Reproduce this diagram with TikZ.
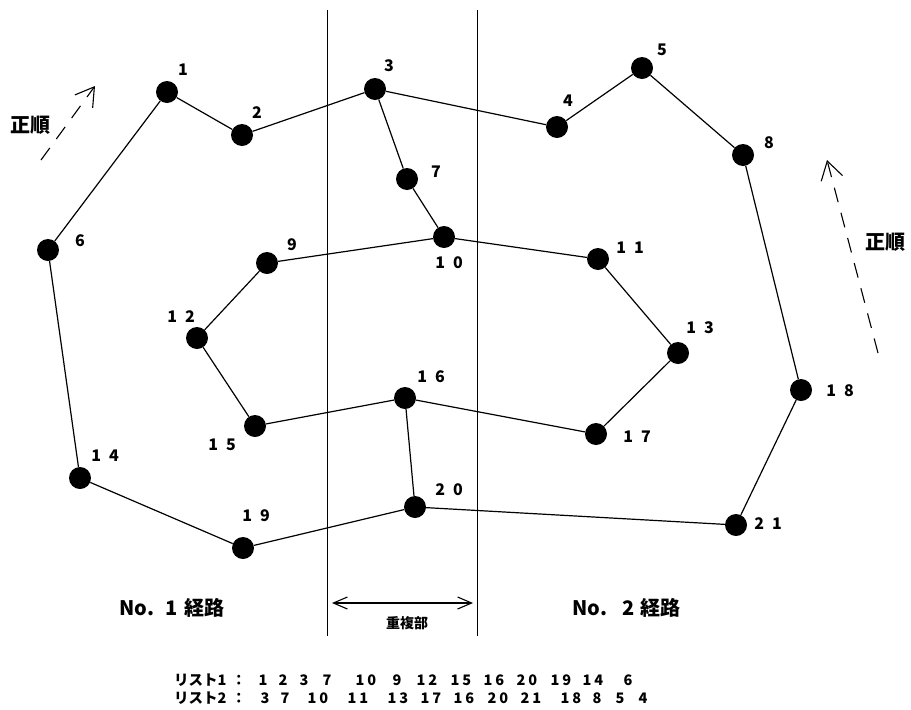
\documentclass[tikz,border=0pt]{standalone}
\usepackage{fontspec}
\setmainfont{Noto Sans CJK JP}
\usetikzlibrary{arrows.meta}
\begin{document}
\begin{tikzpicture}[x=1pt,y=-1pt,
  dot/.style={circle,fill=black,inner sep=0pt,minimum size=22pt},
  edge/.style={line width=1.2pt},
  lbl/.style={font=\bfseries\fontsize{16}{16}\selectfont,inner sep=0pt},
  big/.style={font=\bfseries\fontsize{20}{20}\selectfont,inner sep=0pt},
  mid/.style={font=\bfseries\fontsize{14}{14}\selectfont,inner sep=0pt},
  lst/.style={font=\bfseries\fontsize{14.5}{14.5}\selectfont,inner sep=0pt},
  vline/.style={line width=1pt},
  dasharrow/.style={line width=1.1pt,dash pattern=on 15pt off 11pt,-{Straight Barb[length=18pt,width=22pt,line width=1.1pt]}},
  dblarrow/.style={line width=1.1pt,{Straight Barb[length=14pt,width=12pt]}-{Straight Barb[length=14pt,width=12pt]}}
]
\useasboundingbox (0,0) rectangle (911,710);
\newcommand{\dg}{\hspace{8pt}}
% nodes
\node[dot] (n1) at (167,92) {};
\node[dot] (n2) at (242,135) {};
\node[dot] (n3) at (375,89) {};
\node[dot] (n4) at (557,127) {};
\node[dot] (n5) at (642,68) {};
\node[dot] (n6) at (48,250) {};
\node[dot] (n7) at (407,179) {};
\node[dot] (n8) at (743,155) {};
\node[dot] (n9) at (267,263) {};
\node[dot] (n10) at (444,237) {};
\node[dot] (n11) at (598,259) {};
\node[dot] (n12) at (197,338) {};
\node[dot] (n13) at (678,353) {};
\node[dot] (n14) at (80,478) {};
\node[dot] (n15) at (255,426) {};
\node[dot] (n16) at (405,398) {};
\node[dot] (n17) at (596,434) {};
\node[dot] (n18) at (801,390) {};
\node[dot] (n19) at (243,548) {};
\node[dot] (n20) at (415,507) {};
\node[dot] (n21) at (736,525) {};
% labels
\node[lbl] (l1) at (183,70) {1};
\node[lbl] (l2) at (257,113) {2};
\node[lbl] (l3) at (389,66) {3};
\node[lbl] (l4) at (568,101) {4};
\node[lbl] (l5) at (662,50) {5};
\node[lbl] (l6) at (80,241) {6};
\node[lbl] (l7) at (436,172) {7};
\node[lbl] (l8) at (769,143) {8};
\node[lbl] (l9) at (292,245) {9};
\node[lbl] (l10) at (449,263) {1\dg 0};
\node[lbl] (l11) at (630,248) {1\dg 1};
\node[lbl] (l12) at (181,317) {1\dg 2};
\node[lbl] (l13) at (700,328) {1\dg 3};
\node[lbl] (l14) at (105,456) {1\dg 4};
\node[lbl] (l15) at (222,445) {1\dg 5};
\node[lbl] (l16) at (431,377) {1\dg 6};
\node[lbl] (l17) at (637,437) {1\dg 7};
\node[lbl] (l18) at (840,391) {1\dg 8};
\node[lbl] (l19) at (256,516) {1\dg 9};
\node[lbl] (l20) at (449,490) {2\dg 0};
\node[lbl] (l21) at (768,524) {2\dg 1};
% edges
\draw[edge] (n6) -- (n1) -- (n2) -- (n3) -- (n4) -- (n5) -- (n8) -- (n18) -- (n21) -- (n20) -- (n19) -- (n14) -- (n6);
\draw[edge] (n3) -- (n7) -- (n10) -- (n9) -- (n12) -- (n15) -- (n16) -- (n17) -- (n13) -- (n11) -- (n10);
\draw[edge] (n16) -- (n20);
% vertical lines
\coordinate (va) at (327,10);
\coordinate (vb) at (327,636);
\coordinate (vc) at (477,10);
\coordinate (vd) at (477,636);
\draw[vline] (va) -- (vb);
\draw[vline] (vc) -- (vd);
% overlap arrow
\coordinate (da) at (332,603);
\coordinate (db) at (473,603);
\draw[dblarrow] (da) -- (db);
\node[mid] (ovl) at (407,623) {重複部};
% direction arrows
\coordinate (a1s) at (41,160);
\coordinate (a1e) at (95,86);
\draw[dasharrow] (a1s) -- (a1e);
\node[big] (s1) at (30,125) {正順};
\coordinate (a2s) at (878,353);
\coordinate (a2e) at (827,160);
\draw[dasharrow] (a2s) -- (a2e);
\node[big] (s2) at (885,242) {正順};
% route titles
\node[big,anchor=west] (r1) at (119,608) {No.\hspace{11pt}1\hspace{7pt}経路};
\node[big,anchor=west] (r2) at (572,608) {No.\hspace{15pt}2\hspace{6pt}経路};
% lists
\node[lst,anchor=west] (p1) at (174,680) {リスト1\hspace{5pt}：};
\node[lst,anchor=west] (p2) at (174,698) {リスト2\hspace{5pt}：};
\newcommand{\ld}{\hspace{3pt}}
\foreach \x/\t [count=\i] in {263/1,283/2,304/3,327/7,366/1\ld 0,397/9,427/1\ld 2,461/1\ld 5,494/1\ld 6,527/2\ld 0,561/1\ld 9,593/1\ld 4,628/6}
  \node[lst] (a\i) at (\x,680) {\t};
\foreach \x/\t [count=\i] in {265/3,285/7,318/1\ld 0,358/1\ld 1,398/1\ld 3,431/1\ld 7,464/1\ld 6,498/2\ld 0,531/2\ld 1,571/1\ld 8,597/8,620/5,643/4}
  \node[lst] (b\i) at (\x,698) {\t};
\end{tikzpicture}
\end{document}
